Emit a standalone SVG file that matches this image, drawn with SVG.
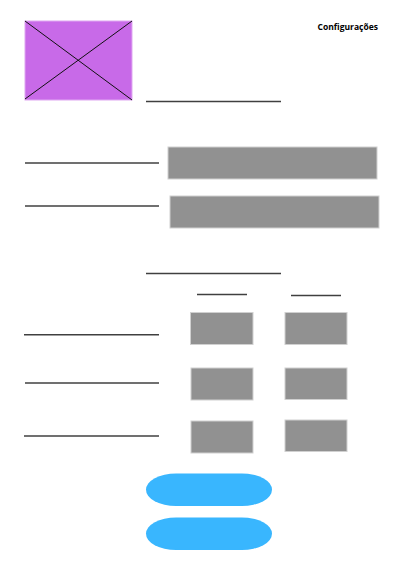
<svg xmlns="http://www.w3.org/2000/svg" width="417" height="588" viewBox="0 0 417 588">
<style>
.ln{stroke:#404040;stroke-width:1.5;fill:none}
.box{fill:#919191;stroke:#d0d0d0;stroke-width:1}
.pill{fill:#39b6fe}
.t{font-family:"Open Sans","Liberation Sans",sans-serif;font-weight:bold;font-size:8.5px;fill:#000}
</style>
<rect width="417" height="588" fill="#fff"/>
<g id="image">
<rect x="25" y="21" width="107" height="79" fill="#c86ae8" stroke="#e0a8f2" stroke-width="1"/>
<line x1="25" y1="21" x2="132" y2="100" stroke="#111" stroke-width="1"/>
<line x1="25" y1="99" x2="132" y2="21" stroke="#111" stroke-width="1"/>
</g>
<g id="title"><text class="t" x="378" y="29.5" text-anchor="end">Configurações</text></g>
<g id="lines">
<line class="ln" x1="146" y1="101.5" x2="281" y2="101.5"/>
<line class="ln" x1="25" y1="163" x2="159" y2="163"/>
<line class="ln" x1="25" y1="206" x2="159" y2="206"/>
<line class="ln" x1="146" y1="273.5" x2="281" y2="273.5"/>
<line class="ln" x1="197" y1="294.5" x2="247" y2="294.5"/>
<line class="ln" x1="291" y1="295.5" x2="341" y2="295.5"/>
<line class="ln" x1="24" y1="334.7" x2="159" y2="334.7"/>
<line class="ln" x1="25" y1="383" x2="159" y2="383"/>
<line class="ln" x1="24" y1="436" x2="159" y2="436"/>
</g>
<g id="field1"><rect class="box" x="168" y="147" width="209" height="32"/></g>
<g id="field2"><rect class="box" x="170" y="196" width="209" height="32"/></g>
<g id="grid">
<rect class="box" x="190.5" y="312.5" width="62.5" height="32"/>
<rect class="box" x="285" y="312.5" width="62" height="32"/>
<rect class="box" x="191" y="368" width="62" height="32"/>
<rect class="box" x="285" y="368" width="62" height="31.5"/>
<rect class="box" x="191" y="421" width="62" height="32"/>
<rect class="box" x="285" y="420" width="62" height="31.5"/>
</g>
<g id="btn1"><rect class="pill" x="146" y="473.5" width="126" height="32.5" rx="30" ry="16.25"/></g>
<g id="btn2"><rect class="pill" x="146" y="517.5" width="126" height="32.5" rx="30" ry="16.25"/></g>
</svg>
